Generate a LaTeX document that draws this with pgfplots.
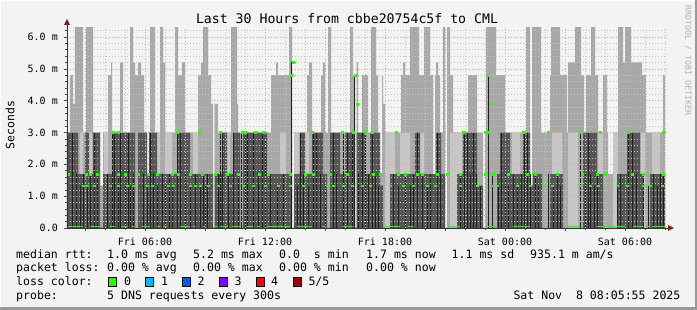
\documentclass[border=0pt]{standalone}
\usepackage{pgfplots}
\pgfplotsset{compat=1.18}
\usepackage{fontspec}
\setmainfont{DejaVu Sans Mono}
\setmonofont{DejaVu Sans Mono}
\definecolor{canvas}{HTML}{F3F3F3}
\definecolor{smokeA}{HTML}{A8A8A8}
\definecolor{smokeL}{HTML}{C6C6C6}
\definecolor{smokeD}{HTML}{565656}
\definecolor{lineK}{HTML}{1E1E1E}
\definecolor{medgreen}{HTML}{26FF00}
\definecolor{mgrid}{HTML}{EE9A9A}
\definecolor{ngrid}{HTML}{C4C4C4}
\definecolor{arrowred}{HTML}{8B1A1A}
\definecolor{lc1}{HTML}{00B8FF}
\definecolor{lc2}{HTML}{0059FF}
\definecolor{lc3}{HTML}{7E00FF}
\definecolor{lc4}{HTML}{FF0000}
\definecolor{lc5}{HTML}{A00000}
\begin{document}
\begin{tikzpicture}
\begin{scope}[x=1pt,y=1pt]
\fill[canvas] (0,0) rectangle (697,310);
\useasboundingbox (0,0) rectangle (697,310);
\fill[black!40] (694.5,0) rectangle (697,310);
\fill[black!40] (0,0) rectangle (697,2.5);
\draw[white,line width=1pt] (0.5,2.5) -- (0.5,309.5) -- (694.5,309.5);
\end{scope}
\begin{axis}[
  at={(67pt,82pt)}, anchor=south west,
  scale only axis, width=600pt, height=200pt,
  xmin=67, xmax=667, ymin=0, ymax=6.2834,
  axis on top,
  axis lines*=left,
  axis line style={draw=none},
  xtick={85,145,205,265,325,385,445,505,565,625},
  xticklabels={,Fri 06:00,,Fri 12:00,,Fri 18:00,,Sat 00:00,,Sat 06:00},
  minor xtick={105,125,165,185,225,245,285,305,345,365,405,425,465,485,525,545,585,605,645,665},
  ytick={0,1,2,3,4,5,6},
  yticklabels={0.0,1.0 m,2.0 m,3.0 m,4.0 m,5.0 m,6.0 m},
  minor ytick={0.2,0.4,0.6,0.8,1.2,1.4,1.6,1.8,2.2,2.4,2.6,2.8,3.2,3.4,3.6,3.8,4.2,4.4,4.6,4.8,5.2,5.4,5.6,5.8,6.2},
  grid=both,
  major grid style={draw=mgrid, dash pattern=on 1pt off 2pt, line width=0.6pt},
  minor grid style={draw=ngrid, dash pattern=on 1pt off 2pt, line width=0.6pt},
  tick align=outside,
  major tick length=3pt, minor tick length=2pt,
  tick style={draw=black!70, line width=0.5pt, solid},
  ticklabel style={font=\fontsize{10}{12}\selectfont},
  yticklabel style={anchor=east, inner sep=0pt, xshift=-6pt},
  xticklabel style={anchor=north, inner sep=0pt, yshift=-6.5pt},
]
% outer smoke envelope
\addplot[const plot, fill=smokeA, draw=none] coordinates {
(67,3.0) (70,4.8) (73,3.9) (75,6.4) (83,3.0) (86,6.4) (93,3.0) (100,1.33) (103,3.0)
(108,4.8) (111,5.2) (112,3.0) (120,5.2) (123,3.0) (130,6.4) (133,5.2) (135,4.8) (138,5.2)
(141,4.8) (144,3.0) (147,1.69) (149,3.0) (150,6.4) (155,3.0) (160,6.4) (163,5.2) (165,3.0)
(175,6.4) (178,4.8) (182,5.2) (185,3.0) (198,4.8) (201,5.2) (203,6.4) (208,4.8) (211,3.9)
(213,0) (214.5,3.9) (218,3.0) (231,6.4) (237,3.9) (238,3.0) (271,4.8) (276,5.2) (278,4.8)
(289,6.4) (292,0) (294,3.0) (307,4.8) (309,5.2) (312,3.0) (321,4.8) (323,5.2) (325,3.0)
(328,6.4) (331,3.0) (350,6.4) (353,4.8) (355,0) (356.5,5.2) (358,3.0) (362,4.8) (368,3.0)
(371,6.4) (376,4.8) (378,3.0) (380,1.69) (382,4.8) (383,3.9) (385,3.0) (401,4.8) (403,5.2)
(405,4.8) (410,6.4) (419,4.8) (424,6.4) (430,4.8) (433,1.69) (435,4.8) (436,5.2) (438,4.8)
(440,3.0) (443,6.4) (445,0) (447,6.4) (450,4.8) (453,3.0) (468,4.8) (477,3.0) (483,0)
(485,3.0) (486,6.4) (496,4.8) (505,3.0) (526,6.4) (530,1.33) (532,6.4) (541,3.0) (550,4.8)
(551,6.4) (560,4.8) (567,3.0) (568,5.2) (575,6.4) (581,4.8) (584,3.0) (586,4.8) (591,6.4)
(595,4.8) (598,3.0) (603,4.8) (607,3.0) (608,1.69) (613,3.0) (618,6.4) (623,5.2) (625,6.4)
(631,5.2) (640,5.2) (642,4.8) (646,3.0) (663,4.8) (665,0) (667,0)
} \closedcycle;
% lighter smoke columns
\addplot[const plot, fill=smokeL, draw=none] coordinates {
(67,0) (80,3.0) (83,0) (89,3.0) (92,0) (104,3.0) (108,0) (157,3.0) (160,0) (165,3.0) (172,0)
(182,3.0) (185,0) (193,3.0) (198,0) (225,3.0) (230,0) (280,3.0) (286,0) (294,3.0) (299,0)
(305,3.0) (309,0) (385,3.0) (395,0) (400,3.0) (410,0) (419,3.0) (424,0) (450,3.0) (462,0)
(512,3.0) (520,0) (552,3.0) (562,0) (568,3.0) (578,0) (598,3.0) (603,0) (613,3.0) (618,0)
(641,3.0) (645,0) (652,3.0) (660,0) (667,0)
} \closedcycle;
% dark smoke near the median
\addplot[const plot, fill=smokeD, draw=none] coordinates {
(67,3.0) (78,1.69) (85,3.0) (89,1.69) (93,3.0) (100,0) (103,1.69) (113,3.0) (135,0) (138,3.0)
(147,1.69) (149,3.0) (157,1.69) (177,3.0) (190,1.69) (213,0) (214.5,1.69) (222,3.0) (227,1.69)
(233,3.0) (240,0) (243,3.0) (267,1.69) (292,0) (294,1.69) (300,3.0) (305,1.69) (312,3.0)
(323,1.69) (327,0) (330,3.0) (340,1.69) (345,3.0) (355,0) (356.5,3.0) (365,1.69) (370,3.0)
(380,1.33) (383,0) (390,1.69) (415,3.0) (420,1.69) (436,3.0) (441,1.69) (445,0) (457,1.69)
(463,3.0) (477,1.33) (483,0) (497,1.69) (500,3.0) (510,1.69) (523,3.0) (530,1.33) (533,1.69)
(542,0) (550,1.69) (563,0) (583,3.0) (597,1.69) (603,0) (617,1.69) (627,3.0) (640,1.69)
(643,0) (650,1.69) (665,0) (667,0)
} \closedcycle;
% dark lines
\addplot[ycomb, draw=lineK, line width=0.9pt] coordinates {
(72,3.0) (76,1.69) (80,1.33) (83,1.69) (87,1.33) (90,1.69) (94,3.0) (97,1.69) (107,1.69)
(112,3.0) (114,3.0) (118,1.69) (120,3.0) (125,1.69) (128,3.0) (130,1.33) (133,1.69) (143,1.69)
(147,1.33) (150,3.0) (153,1.69) (157,1.33) (162,1.69) (165,1.33) (169,1.69) (172,1.33)
(177,3.0) (180,3.0) (185,1.69) (190,1.33) (195,1.69) (200,1.33) (203,1.69) (205,1.33)
(207,1.69) (218,1.69) (220,3.0) (222,3.0) (228,1.69) (233,3.0) (238,1.69) (241,3.0) (245,3.0)
(247,3.0) (253,3.0) (258,1.69) (262,3.0) (265,3.0) (270,1.69) (277,1.33) (283,1.69)
(291,5.2) (297,1.33) (300,3.0) (303,1.69) (308,1.33) (313,3.0) (316,3.0) (320,1.69)
(325,1.33) (333,3.0) (336,1.69) (343,3.0) (347,3.0) (352,3.0) (354,4.8) (358,1.69) (362,3.0)
(365,3.0) (368,1.69) (372,3.0) (375,1.69) (378,1.33) (393,1.69) (398,1.33) (405,1.69)
(410,1.33) (413,1.69) (417,3.0) (422,1.69) (427,1.33) (430,1.69) (437,3.0) (440,1.69)
(460,1.69) (464,3.0) (467,3.0) (470,1.69) (473,3.0) (476,1.69) (480,1.33) (488,4.8)
(492,1.69) (498,1.33) (501,3.0) (505,1.69) (508,1.33) (513,1.69) (517,1.33) (521,1.69)
(524,3.0) (527,3.0) (530,1.69) (535,1.69) (538,1.33) (548,1.69) (553,1.33) (557,1.69)
(560,1.33) (580,3.0) (585,1.69) (588,3.0) (590,1.69) (594,1.33) (597,1.69) (617,1.33)
(620,1.69) (628,3.0) (632,3.0) (636,1.69) (643,1.69) (648,1.33) (653,1.69) (657,1.33)
(660,1.69) (663,1.69)
};
% median (0 % loss) along the base
\addplot[medgreen, line width=1.2pt, unbounded coords=jump] coordinates {
(67,0.04) (83,0.04) (83,nan) (90,0.04) (100,0.04) (100,nan) (110,0.04) (115,0.04) (115,nan)
(121,0.04) (127,0.04) (127,nan) (132,0.04) (134,0.04) (134,nan) (142,0.04) (150,0.04) (150,nan)
(157,0.04) (160,0.04) (160,nan) (163,0.04) (167,0.04) (167,nan) (180,0.04) (190,0.04) (190,nan)
(193,0.04) (195,0.04) (195,nan) (203,0.04) (205,0.04) (205,nan) (214,0.04) (218,0.04) (218,nan)
(220,0.04) (228,0.04) (228,nan) (232,0.04) (240,0.04) (240,nan) (247,0.04) (253,0.04) (253,nan)
(257,0.04) (260,0.04) (260,nan) (267,0.04) (290,0.04) (290,nan) (297,0.04) (312,0.04) (312,nan)
(322,0.04) (325,0.04) (325,nan) (343,0.04) (353,0.04) (353,nan) (383,0.04) (400,0.04) (400,nan)
(408,0.04) (413,0.04) (413,nan) (447,0.04) (460,0.04) (460,nan) (485,0.04) (497,0.04) (497,nan)
(513,0.04) (530,0.04) (530,nan) (563,0.04) (580,0.04) (580,nan) (597,0.04) (625,0.04) (625,nan)
(633,0.04) (643,0.04) (643,nan) (647,0.04) (650,0.04) (650,nan) (652,0.04) (665,0.04)
};
% median marks
\addplot[only marks, mark=square*, mark size=0.9pt, color=medgreen] coordinates {
(113,3.0) (118,3.0) (177,3.0) (199,3.0) (220,3.0) (242,3.0) (245,3.0) (255,3.0) (263,3.0)
(312,3.0) (342,3.0) (353,3.0) (365,3.0) (372,3.0) (396,3.0) (463,3.0) (485,3.0) (487,3.0)
(523,3.0) (548,3.0) (580,3.0) (600,3.0) (628,3.0) (663,3.0)
(291,4.8) (293,5.2) (355,4.8) (357,3.9) (488,4.8) (490,3.9)
(68,1.69) (86,1.69) (90,1.69) (97,1.69) (118,1.69) (125,1.69) (138,1.69) (148,1.69) (157,1.69)
(172,1.69) (178,1.69) (190,1.69) (202,1.69) (215,1.69) (227,1.69) (238,1.69) (259,1.69)
(268,1.69) (290,1.69) (305,1.69) (313,1.69) (330,1.69) (347,1.69) (373,1.69) (380,1.69)
(398,1.69) (405,1.69) (417,1.69) (422,1.69) (437,1.69) (447,1.69) (460,1.69) (485,1.69)
(493,1.69) (508,1.69) (527,1.69) (535,1.69) (557,1.69) (582,1.69) (597,1.69) (605,1.69)
(632,1.69) (643,1.69) (663,1.69)
(83,1.33) (87,1.33) (94,1.33) (110,1.33) (118,1.33) (127,1.33) (133,1.33) (147,1.33) (152,1.33)
(168,1.33) (173,1.33) (190,1.33) (195,1.33) (200,1.33) (208,1.33) (218,1.33) (230,1.33)
(243,1.33) (253,1.33) (265,1.33) (278,1.33) (290,1.33) (303,1.33) (327,1.33) (333,1.33)
(343,1.33) (352,1.33) (362,1.33) (370,1.33) (390,1.33) (403,1.33) (413,1.33) (427,1.33)
(435,1.33) (460,1.33) (477,1.33) (492,1.33) (497,1.33) (517,1.33) (530,1.33) (543,1.33)
(552,1.33) (580,1.33) (590,1.33) (598,1.33) (617,1.33) (627,1.33) (643,1.33) (650,1.33)
(662,1.33)
};
\end{axis}
\begin{scope}[x=1pt,y=1pt]
% axis lines and arrows
\draw[black!80, line width=0.8pt] (67,82) -- (67,285);
\draw[black!80, line width=0.8pt] (67,82) -- (668,82);
\fill[arrowred] (64,285) -- (70,285) -- (67,291) -- cycle;
\fill[arrowred] (668,79) -- (668,85) -- (674,82) -- cycle;
% texts
\node[anchor=base, inner sep=0pt, font=\fontsize{13.2}{15}\selectfont] at (347,286.5) {Last 30 Hours from cbbe20754c5f to CML};
\node[rotate=90, inner sep=0pt, font=\fontsize{11.5}{13}\selectfont] at (10,185) {Seconds};
\node[rotate=-90, anchor=west, inner sep=0pt, text=black!30, font=\fontsize{8.3}{10}\selectfont] at (688,305) {RRDTOOL / TOBI OETIKER};
\begin{scope}[every node/.style={anchor=base west, inner sep=0pt, font=\fontsize{11.55}{13}\selectfont}]
\node at (16,51.5) {median rtt:};
\node at (107,51.5) {1.0 ms avg};
\node at (193,51.5) {5.2 ms max};
\node at (279,51.5) {0.0\ \ s min};
\node at (366,51.5) {1.7 ms now};
\node at (451.5,51.5) {1.1 ms sd};
\node at (530,51.5) {935.1 m am/s};
\node at (16,38) {packet loss:};
\node at (107,38) {0.00 \% avg};
\node at (193,38) {0.00 \% max};
\node at (279,38) {0.00 \% min};
\node at (366,38) {0.00 \% now};
\node at (16,24.3) {loss color:};
\node at (124,24.3) {0};
\node at (161,24.3) {1};
\node at (197.3,24.3) {2};
\node at (234.3,24.3) {3};
\node at (271,24.3) {4};
\node at (308.3,24.3) {5/5};
\node at (16,10.6) {probe:};
\node at (107,10.6) {5 DNS requests every 300s};
\node at (513.3,10.6) {Sat Nov\ \ 8 08:05:55 2025};
\end{scope}
\filldraw[fill=medgreen, draw=black, line width=0.6pt] (108.5,24) rectangle (116,33);
\filldraw[fill=lc1, draw=black, line width=0.6pt] (145.5,24) rectangle (153,33);
\filldraw[fill=lc2, draw=black, line width=0.6pt] (182.5,24) rectangle (190,33);
\filldraw[fill=lc3, draw=black, line width=0.6pt] (219.5,24) rectangle (227,33);
\filldraw[fill=lc4, draw=black, line width=0.6pt] (256.5,24) rectangle (264,33);
\filldraw[fill=lc5, draw=black, line width=0.6pt] (293.5,24) rectangle (301,33);
\end{scope}
\end{tikzpicture}
\end{document}
